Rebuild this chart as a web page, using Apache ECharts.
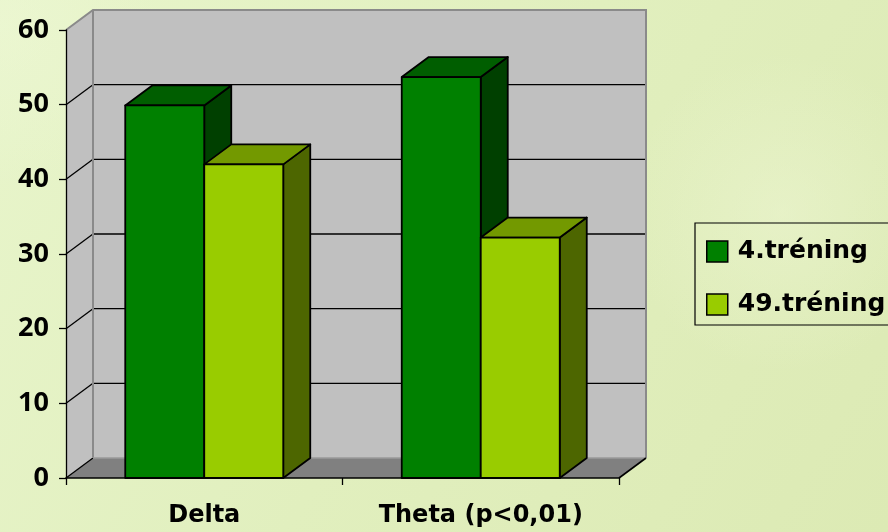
<!DOCTYPE html>
<html>
<head>
<meta charset="utf-8">
<title>Delta / Theta – 4. és 49. tréning</title>
<script src="https://cdn.jsdelivr.net/npm/echarts@6/dist/echarts.min.js"></script>
<style>
  html, body { margin: 0; padding: 0; }
  #chart { width: 888px; height: 532px; }
</style>
</head>
<body>
<div id="chart"></div>
<script>
// ---- data ----
const categories = ['Delta', 'Theta (p<0,01)'];
const seriesNames = ['4.tréning', '49.tréning'];
const training4 = [49.9, 53.7];
const training49 = [42.0, 32.2];
const valueTicks = [0, 10, 20, 30, 40, 50, 60];

// ---- styling ----
const DEPTH_X = 27;     // horizontal offset of the back plane
const DEPTH_Y = -20;    // vertical offset of the back plane
const GAP_RATIO = 3.5;  // band = 2 bars + 1.5 bar widths of gap
const faceColors = [
  { front: '#008000', top: '#005e00', side: '#004000' },
  { front: '#99cc00', top: '#739900', side: '#4d6600' }
];
const EDGE = '#000000';
const WALL = '#c0c0c0';
const FLOOR = '#808080';
const WALL_EDGE = '#8a8a8a';
const LEGEND_BOX = { x: 695, y: 223, width: 240, height: 102 };

const chart = echarts.init(document.getElementById('chart'), null, { renderer: 'canvas' });

// Back wall, side wall, floor and the value gridlines drawn on the walls
function renderWalls(params, api) {
  const cs = params.coordSys;
  const x0 = cs.x, x1 = cs.x + cs.width;
  const yTop = cs.y, yBot = cs.y + cs.height;
  const dx = DEPTH_X, dy = DEPTH_Y;
  const children = [];

  children.push({
    type: 'polygon',
    shape: { points: [[x0, yBot], [x0, yTop], [x0 + dx, yTop + dy], [x0 + dx, yBot + dy]] },
    style: { fill: WALL }
  });
  children.push({
    type: 'rect',
    shape: { x: x0 + dx, y: yTop + dy, width: cs.width, height: cs.height },
    style: { fill: WALL }
  });
  children.push({
    type: 'polygon',
    shape: { points: [[x0, yBot], [x0 + dx, yBot + dy], [x1 + dx, yBot + dy], [x1, yBot]] },
    style: { fill: FLOOR }
  });

  const maxTick = valueTicks[valueTicks.length - 1];
  valueTicks.forEach(function (v) {
    const y = api.coord([0, v])[1];
    if (v > 0 && v < maxTick) {
      children.push({
        type: 'line',
        shape: { x1: x0 + dx, y1: y + dy, x2: x1 + dx, y2: y + dy },
        style: { stroke: EDGE, lineWidth: 1.4 }
      });
    }
    if (v < maxTick) {
      children.push({
        type: 'line',
        shape: { x1: x0, y1: y, x2: x0 + dx, y2: y + dy },
        style: { stroke: EDGE, lineWidth: 1.3 }
      });
    }
  });

  // wall outlines
  children.push({
    type: 'polyline',
    shape: { points: [[x0, yTop], [x0 + dx, yTop + dy], [x1 + dx, yTop + dy], [x1 + dx, yBot + dy]] },
    style: { stroke: WALL_EDGE, lineWidth: 2, fill: null }
  });
  children.push({
    type: 'line',
    shape: { x1: x0 + dx, y1: yTop + dy, x2: x0 + dx, y2: yBot + dy },
    style: { stroke: WALL_EDGE, lineWidth: 2 }
  });
  children.push({
    type: 'line',
    shape: { x1: x0 + dx, y1: yBot + dy, x2: x1 + dx, y2: yBot + dy },
    style: { stroke: '#9a9a9a', lineWidth: 1.5 }
  });
  children.push({
    type: 'line',
    shape: { x1: x1, y1: yBot, x2: x1 + dx, y2: yBot + dy },
    style: { stroke: EDGE, lineWidth: 1.6 }
  });

  return { type: 'group', children: children };
}

// One 3D column per data item; slot 0 sits left of the category centre, slot 1 right
function makeBarRenderer(slot) {
  const c = faceColors[slot];
  return function (params, api) {
    const cat = api.value(0);
    const val = api.value(1);
    const base = api.coord([cat, 0]);
    const top = api.coord([cat, val]);
    const band = api.size([1, 0])[0];
    const w = band / GAP_RATIO;
    const l = base[0] - w + slot * w;
    const r = l + w;
    const ty = top[1], by = base[1];
    const dx = DEPTH_X, dy = DEPTH_Y;
    const edge = { stroke: EDGE, lineWidth: 1.8, lineJoin: 'round' };
    return {
      type: 'group',
      children: [
        {
          type: 'polygon',
          shape: { points: [[r, ty], [r + dx, ty + dy], [r + dx, by + dy], [r, by]] },
          style: Object.assign({ fill: c.side }, edge)
        },
        {
          type: 'polygon',
          shape: { points: [[l, ty], [l + dx, ty + dy], [r + dx, ty + dy], [r, ty]] },
          style: Object.assign({ fill: c.top }, edge)
        },
        {
          type: 'rect',
          shape: { x: l, y: ty, width: w, height: by - ty },
          style: Object.assign({ fill: c.front }, edge)
        }
      ]
    };
  };
}

const option = {
  animation: false,
  graphic: [
    {
      type: 'rect', z: -100, silent: true,
      shape: { x: 0, y: 0, width: 888, height: 532 },
      style: {
        fill: new echarts.graphic.LinearGradient(0, 0, 1, 1, [
          { offset: 0, color: '#e8f5cb' },
          { offset: 0.5, color: '#e1efbe' },
          { offset: 1, color: '#dceab4' }
        ])
      }
    },
    {
      type: 'rect', z: -99, silent: true,
      shape: { x: 0, y: 0, width: 888, height: 532 },
      style: {
        fill: new echarts.graphic.RadialGradient(0.88, 0.4, 0.3, [
          { offset: 0, color: 'rgba(238,246,212,0.5)' },
          { offset: 1, color: 'rgba(238,246,212,0)' }
        ])
      }
    },
    {
      type: 'rect', z: -99, silent: true,
      shape: { x: 0, y: 0, width: 888, height: 532 },
      style: {
        fill: new echarts.graphic.RadialGradient(0.0, 0.05, 0.3, [
          { offset: 0, color: 'rgba(238,248,214,0.5)' },
          { offset: 1, color: 'rgba(238,248,214,0)' }
        ])
      }
    },
    {
      // legend frame, running past the right edge of the canvas
      type: 'rect', z: 50, silent: true,
      shape: LEGEND_BOX,
      style: { fill: null, stroke: '#000', lineWidth: 1.2 }
    }
  ],
  grid: { left: 66, top: 30, width: 553, height: 448, containLabel: false },
  legend: {
    orient: 'vertical',
    left: LEGEND_BOX.x,
    top: LEGEND_BOX.y,
    padding: [16, 10, 16, 11],
    itemWidth: 21,
    itemHeight: 21,
    itemGap: 28,
    icon: 'rect',
    borderWidth: 0,
    data: seriesNames,
    itemStyle: { borderColor: '#000', borderWidth: 1.5 },
    textStyle: {
      fontFamily: 'DejaVu Sans',
      fontWeight: 'bold',
      fontSize: 25,
      lineHeight: 21,
      color: '#000',
      padding: [0, 0, 0, 5]
    }
  },
  xAxis: {
    type: 'category',
    data: categories,
    z: 10,
    axisLine: { show: true, lineStyle: { color: '#000', width: 1.6 } },
    axisTick: { show: true, length: 7, lineStyle: { color: '#000', width: 1.3 } },
    splitLine: { show: false },
    axisLabel: {
      fontFamily: 'DejaVu Sans',
      fontWeight: 'bold',
      fontSize: 24,
      color: '#000',
      margin: 26
    }
  },
  yAxis: {
    type: 'value',
    min: valueTicks[0],
    max: valueTicks[valueTicks.length - 1],
    interval: valueTicks[1] - valueTicks[0],
    z: 10,
    axisLine: { show: true, lineStyle: { color: '#000', width: 1.3 } },
    axisTick: { show: true, length: 7, lineStyle: { color: '#000', width: 1.3 } },
    splitLine: { show: false },
    axisLabel: {
      fontFamily: 'Open Sans',
      fontWeight: 'bold',
      fontSize: 27,
      color: '#000',
      margin: 17
    }
  },
  series: [
    {
      type: 'custom',
      name: 'walls',
      clip: false,
      silent: true,
      z: 1,
      renderItem: renderWalls,
      data: [[0, 0]],
      encode: { x: 0, y: 1 }
    },
    {
      type: 'custom',
      name: seriesNames[0],
      clip: false,
      z: 3,
      itemStyle: { color: faceColors[0].front, borderColor: '#000', borderWidth: 1.5 },
      renderItem: makeBarRenderer(0),
      data: training4.map(function (v, i) { return [i, v]; }),
      encode: { x: 0, y: 1 }
    },
    {
      type: 'custom',
      name: seriesNames[1],
      clip: false,
      z: 4,
      itemStyle: { color: faceColors[1].front, borderColor: '#000', borderWidth: 1.5 },
      renderItem: makeBarRenderer(1),
      data: training49.map(function (v, i) { return [i, v]; }),
      encode: { x: 0, y: 1 }
    }
  ]
};

chart.setOption(option);
</script>
</body>
</html>
